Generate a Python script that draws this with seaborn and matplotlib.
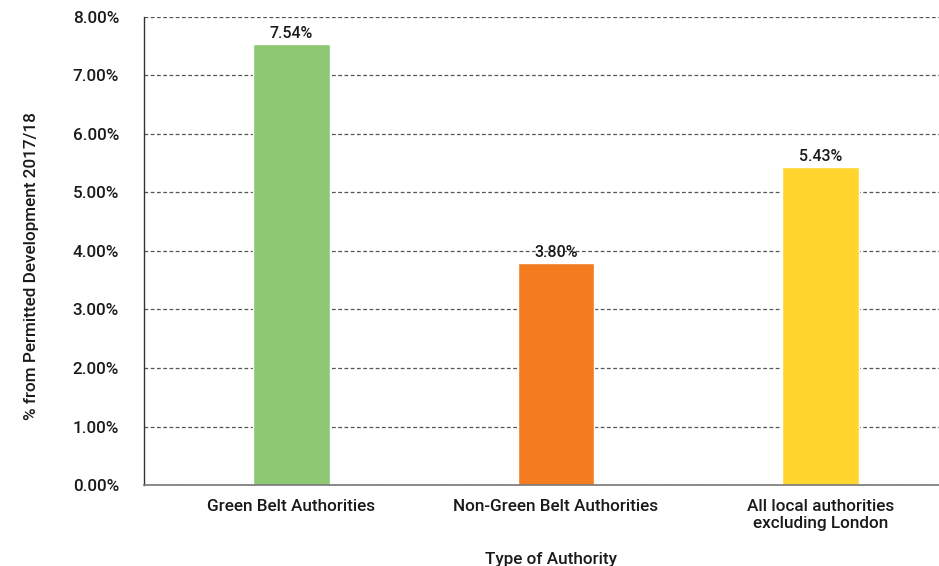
import matplotlib
matplotlib.use("Agg")
import matplotlib.pyplot as plt
import seaborn as sns
import pandas as pd
from matplotlib.ticker import FuncFormatter, MultipleLocator

categories = ["Green Belt Authorities", "Non-Green Belt Authorities",
              "All local authorities\nexcluding London"]
values = [7.54, 3.80, 5.43]
labels = ["7.54%", "3.80%", "5.43%"]
colors = ["#8FC872", "#F47B20", "#FFD52E"]

sns.set_style("white")
plt.rcParams["font.family"] = ["Roboto", "DejaVu Sans"]
plt.rcParams["font.weight"] = "medium"

df = pd.DataFrame({"cat": categories, "val": values})

fig = plt.figure(figsize=(9.39, 5.66), dpi=100)
ax = fig.add_axes([0.1534, 0.1431, 0.8466, 0.8269])

sns.barplot(data=df, x="cat", y="val", hue="cat", palette=colors,
            width=0.29, legend=False, ax=ax, saturation=1)

ax.set_ylim(0, 8)
ax.set_xlim(-0.557, 2.448)
ax.yaxis.set_major_locator(MultipleLocator(1))
ax.yaxis.set_major_formatter(FuncFormatter(lambda v, p: f"{v:.2f}%"))
ax.grid(axis="y", linestyle=(0, (3, 2)), color="#555555", linewidth=0.9)
ax.set_axisbelow(True)

fs = 12.3
for i, (v, t) in enumerate(zip(values, labels)):
    ax.text(i, v + 0.05, t, ha="center", va="bottom", fontsize=11.5,
            color="#1a1a1a", fontweight="medium")

ax.tick_params(axis="both", length=0, labelsize=fs, colors="#1a1a1a")
ax.tick_params(axis="x", pad=10)
ax.tick_params(axis="y", pad=18)
for lab in ax.get_xticklabels() + ax.get_yticklabels():
    lab.set_fontweight("medium")
for lab in ax.get_xticklabels():
    lab.set_ha("center")
    lab.set_multialignment("center")

for s in ["top", "right"]:
    ax.spines[s].set_visible(False)
ax.spines["left"].set_color("#333333")
ax.spines["bottom"].set_color("#777777")
ax.spines["left"].set_linewidth(1)
ax.spines["bottom"].set_linewidth(1.2)

ax.set_xlabel("Type of Authority", fontsize=fs, color="#1a1a1a",
              fontweight="medium")
ax.set_ylabel("% from Permitted Development 2017/18", fontsize=fs,
              color="#1a1a1a", fontweight="medium")
ax.xaxis.set_label_coords(0.512, -0.1435)
ax.yaxis.set_label_coords(-0.132, 0.468)

fig.savefig("out.png", dpi=100)
